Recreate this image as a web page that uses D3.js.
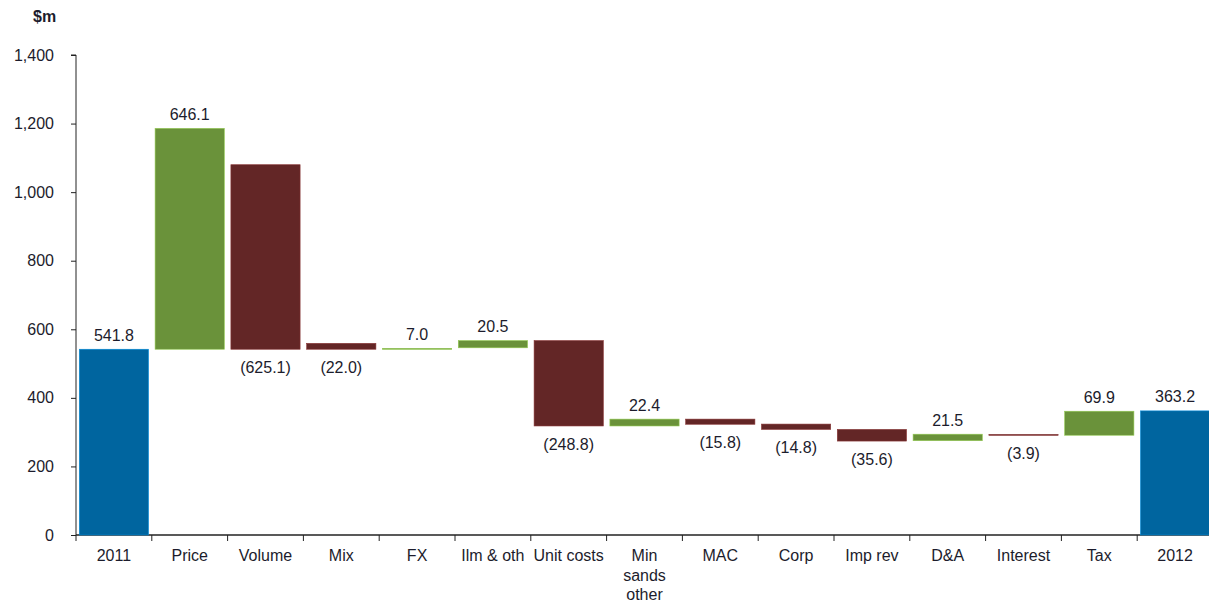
<!DOCTYPE html>
<html>
<head>
<meta charset="utf-8">
<script src="https://cdn.jsdelivr.net/npm/d3@7"></script>
<style>
  body { margin: 0; background: #fff; overflow: hidden; }
  text { font-family: "Liberation Sans", Arial, sans-serif; }
</style>
</head>
<body>
<div id="chart"></div>
<script>
// categories and printed values (in $m)
const categories = ["2011", "Price", "Volume", "Mix", "FX", "Ilm & oth", "Unit costs",
    "Min sands other", "MAC", "Corp", "Imp rev", "D&A", "Interest", "Tax", "2012"];
const changes = [541.8, 646.1, -625.1, -22.0, 7.0, 20.5, -248.8, 22.4, -15.8, -14.8, -35.6, 21.5, -3.9, 69.9, 363.2];
const isTotal = [true, false, false, false, false, false, false, false, false, false, false, false, false, false, true];
// bar extents as drawn in the picture (low / high, $m)
const barLow = [0, 541.8, 541.8, 541.8, 542, 546, 318, 318, 323, 308, 274, 275, 292, 291, 0];
const barHigh = [541.8, 1186, 1080, 559, 544.5, 567, 567, 338, 338, 323.5, 308, 294, 293.5, 361, 362];
const yTicks = [0, 200, 400, 600, 800, 1000, 1200, 1400];

const width = 1209, height = 603;
const margin = { top: 55, right: -4, bottom: 68, left: 76 };

const bars = categories.map((c, i) => ({
    cat: c, value: changes[i], lo: barLow[i], hi: barHigh[i], total: isTotal[i]
}));

const svg = d3.select("#chart").append("svg")
    .attr("width", width)
    .attr("height", height);

const pad = 0.087;
const x = d3.scaleBand()
    .domain(categories)
    .range([margin.left, width - margin.right])
    .paddingInner(pad)
    .paddingOuter(pad / 2);

const y = d3.scaleLinear()
    .domain([0, 1400])
    .range([height - margin.bottom, margin.top]);

// y axis
const yAxis = svg.append("g")
    .attr("transform", `translate(${margin.left},0)`)
    .call(d3.axisLeft(y).tickValues(yTicks).tickSize(5).tickPadding(17).tickFormat(d3.format(",")));
yAxis.select(".domain").attr("stroke", "#222").attr("d", `M-5,${y(1400)}H0V${y(0)}`);
yAxis.selectAll(".tick line").attr("stroke", "#222");
yAxis.selectAll("text").style("font-size", "16px").attr("fill", "#1c1c2c");

// x axis
const xAxis = svg.append("g")
    .attr("transform", `translate(0,${y(0)})`);
xAxis.append("line")
    .attr("x1", margin.left).attr("x2", width)
    .attr("stroke", "#222").attr("stroke-width", 1.5);

// tick marks between categories
const step = x.step();
const edges = categories.map(c => x(c) - pad * step / 2);
xAxis.selectAll(".sep").data(edges).enter().append("line")
    .attr("x1", d => d).attr("x2", d => d)
    .attr("y1", 0).attr("y2", 6)
    .attr("stroke", "#222");

// category labels (wrap "Min sands other")
svg.append("g").selectAll("text")
    .data(categories).enter().append("text")
    .attr("x", d => x(d) + x.bandwidth() / 2)
    .attr("y", y(0) + 26)
    .attr("text-anchor", "middle")
    .style("font-size", "16px")
    .attr("fill", "#1c1c2c")
    .each(function (d) {
        const lines = d === "Min sands other" ? ["Min", "sands", "other"] : [d];
        const t = d3.select(this);
        lines.forEach((l, i) => {
            t.append("tspan")
                .attr("x", x(d) + x.bandwidth() / 2)
                .attr("dy", i === 0 ? 0 : 19.5)
                .text(l);
        });
    });

const color = d => d.total ? "#00659f" : (d.value >= 0 ? "#6a923a" : "#632626");

// bars
svg.append("g").selectAll("rect")
    .data(bars).enter().append("rect")
    .attr("x", d => x(d.cat))
    .attr("width", x.bandwidth())
    .attr("y", d => y(d.hi))
    .attr("height", d => Math.max(1, y(d.lo) - y(d.hi)))
    .attr("fill", color)
    .attr("stroke", d => d3.color(color(d)).brighter(0.9))
    .attr("stroke-width", 0.6);

// value labels
const fmt = d3.format(".1f");
svg.append("g").selectAll("text")
    .data(bars).enter().append("text")
    .attr("x", d => x(d.cat) + x.bandwidth() / 2)
    .attr("y", d => d.value >= 0 ? y(d.hi) - 8.5 : y(d.lo) + 24)
    .attr("text-anchor", "middle")
    .style("font-size", "16px")
    .attr("fill", "#1c1c2c")
    .text(d => d.value >= 0 ? fmt(d.value) : "(" + fmt(-d.value) + ")");

// unit label
svg.append("text")
    .attr("x", 33)
    .attr("y", 22)
    .style("font-size", "16px")
    .style("font-weight", "bold")
    .attr("fill", "#1c1c2c")
    .text("$m");
</script>
</body>
</html>
